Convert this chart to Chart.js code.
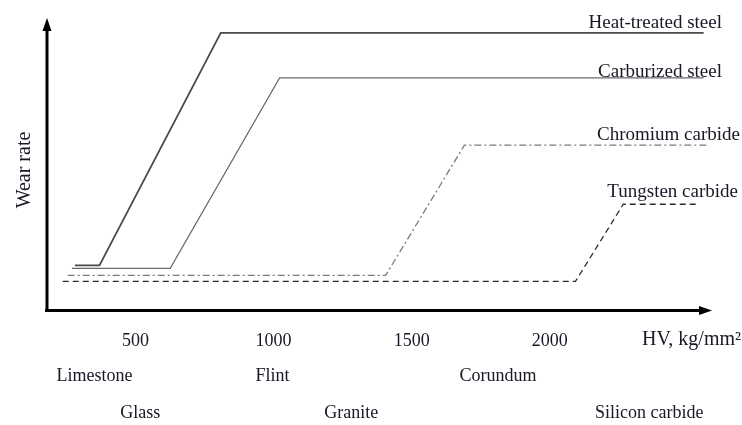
<!DOCTYPE html>
<html>
<head>
<meta charset="utf-8">
<script src="https://cdn.jsdelivr.net/npm/chart.js@4"></script>
<style>
  html, body { margin: 0; padding: 0; background: #fff; }
  #wrap { width: 742px; height: 425px; position: relative; }
</style>
</head>
<body>
<div id="wrap"><canvas id="wearChart"></canvas></div>
<script>
// HV (kg/mm2) tick labels on the x axis
const hvTicks = [500, 1000, 1500, 2000];

// series: [HV, relative wear rate]
const seriesNames = ["Heat-treated steel", "Carburized steel", "Chromium carbide", "Tungsten carbide"];
const heatTreatedHV = [281, 370, 809, 2557];
const heatTreatedWear = [15.4, 15.4, 94.9, 94.9];
const carburizedHV = [270, 626, 1022, 2557];
const carburizedWear = [14.4, 14.4, 79.5, 79.5];
const chromiumHV = [255, 1406, 1691, 2572];
const chromiumWear = [12.0, 12.0, 56.5, 56.5];
const tungstenHV = [237, 2093, 2266, 2536];
const tungstenWear = [9.9, 9.9, 36.3, 36.3];

// abrasive minerals shown under the axis (two rows)
const mineralsRow1 = ["Limestone", "Flint", "Corundum"];
const mineralsRow1HV = [352, 996, 1813];
const mineralsRow2 = ["Glass", "Granite", "Silicon carbide"];
const mineralsRow2HV = [518, 1281, 2360];

const serif = "'Liberation Serif', 'DejaVu Serif', serif";
const textColor = "#181826";

function toPoints(xs, ys) {
    return xs.map((x, i) => ({ x: x, y: ys[i] }));
}

// draws the arrow axes, the series names and the mineral rows
const annotations = {
    id: "annotations",
    afterDraw(chart) {
        const ctx = chart.ctx;
        const area = chart.chartArea;
        const xs = chart.scales.x;

        ctx.save();
        ctx.strokeStyle = "#000";
        ctx.fillStyle = "#000";
        ctx.lineWidth = 3;
        ctx.beginPath();
        ctx.moveTo(area.left, area.bottom);
        ctx.lineTo(area.left, area.top + 10);
        ctx.moveTo(area.left - 2, area.bottom);
        ctx.lineTo(area.right - 10, area.bottom);
        ctx.stroke();
        // arrow heads
        ctx.beginPath();
        ctx.moveTo(area.left, area.top);
        ctx.lineTo(area.left - 4.5, area.top + 13);
        ctx.lineTo(area.left + 4.5, area.top + 13);
        ctx.closePath();
        ctx.fill();
        ctx.beginPath();
        ctx.moveTo(area.right + 2, area.bottom);
        ctx.lineTo(area.right - 11, area.bottom - 4.5);
        ctx.lineTo(area.right - 11, area.bottom + 4.5);
        ctx.closePath();
        ctx.fill();

        ctx.fillStyle = textColor;

        // series names, right aligned, sitting above the plateau
        ctx.font = "19px " + serif;
        const labelRight = [722, 722, 740, 738];
        const labelLift = [5, 1, 5, 7];
        chart.data.datasets.forEach((ds, i) => {
            const pts = chart.getDatasetMeta(i).data;
            const last = pts[pts.length - 1];
            ctx.textAlign = "right";
            ctx.textBaseline = "alphabetic";
            ctx.fillText(ds.label, labelRight[i], last.y - labelLift[i]);
        });

        // axis title
        ctx.font = "20px " + serif;
        ctx.textAlign = "right";
        ctx.textBaseline = "middle";
        ctx.fillText("HV, kg/mm\u00B2", 741, 340);

        // minerals
        ctx.font = "18px " + serif;
        ctx.textAlign = "center";
        mineralsRow1.forEach((m, i) => ctx.fillText(m, xs.getPixelForValue(mineralsRow1HV[i]), 376));
        mineralsRow2.forEach((m, i) => ctx.fillText(m, xs.getPixelForValue(mineralsRow2HV[i]), 413));

        // y axis title
        ctx.translate(25, 170);
        ctx.rotate(-Math.PI / 2);
        ctx.font = "20px " + serif;
        ctx.fillText("Wear rate", 0, 0);
        ctx.restore();
    }
};

const chart = new Chart(document.getElementById("wearChart"), {
    type: "line",
    data: {
        datasets: [
            {
                label: seriesNames[0],
                data: toPoints(heatTreatedHV, heatTreatedWear),
                borderColor: "#4a4a4a",
                borderWidth: 1.8
            },
            {
                label: seriesNames[1],
                data: toPoints(carburizedHV, carburizedWear),
                borderColor: "#6a6a6a",
                borderWidth: 1.2
            },
            {
                label: seriesNames[2],
                data: toPoints(chromiumHV, chromiumWear),
                borderColor: "#7a7a7a",
                borderWidth: 1.3,
                borderDash: [7, 3, 2, 3]
            },
            {
                label: seriesNames[3],
                data: toPoints(tungstenHV, tungstenWear),
                borderColor: "#2a2a2a",
                borderWidth: 1.3,
                borderDash: [6, 4]
            }
        ]
    },
    options: {
        responsive: true,
        maintainAspectRatio: false,
        animation: false,
        events: [],
        elements: {
            point: { radius: 0 },
            line: { tension: 0, fill: false }
        },
        layout: {
            padding: { left: 47, right: 32, top: 18, bottom: 53 }
        },
        plugins: {
            legend: { display: false },
            tooltip: { enabled: false }
        },
        scales: {
            x: {
                type: "linear",
                min: 180,
                max: 2580,
                grid: { display: false, drawTicks: false },
                border: { display: false },
                afterBuildTicks: (scale) => {
                    scale.ticks = hvTicks.map(v => ({ value: v }));
                },
                ticks: {
                    padding: 20,
                    color: textColor,
                    font: { family: serif, size: 18 },
                    maxRotation: 0,
                    autoSkip: false,
                    callback: (v) => String(v)
                }
            },
            y: {
                display: false,
                min: 0,
                max: 100
            }
        }
    },
    plugins: [annotations]
});
</script>
</body>
</html>
